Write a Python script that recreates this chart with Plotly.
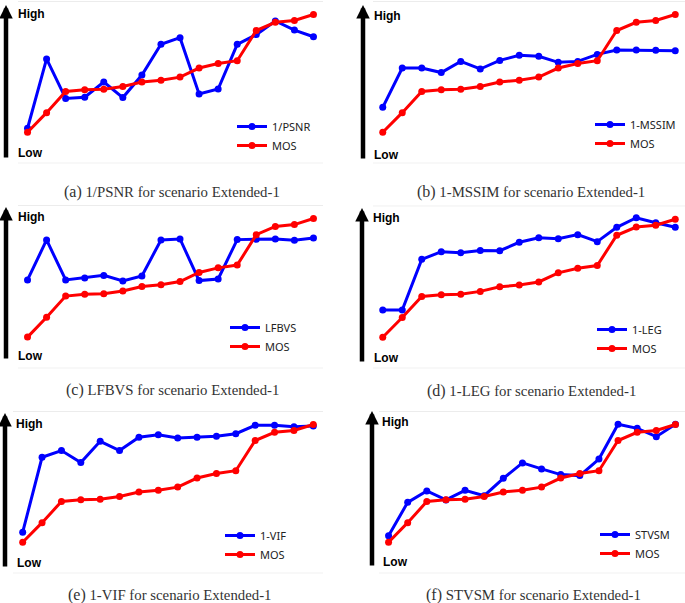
import plotly.graph_objects as go

# ---------------- data (0 = Low, 100 = High) ----------------
sample_idx = list(range(1, 17))

mos = [19.1, 31.2, 44.2, 45.3, 45.6, 47.3, 50.1, 51.2, 53.1, 58.7, 61.5, 63.2, 81.8, 86.9, 88.0, 91.7]

inv_psnr = [21.6, 64.3, 40.0, 40.7, 50.1, 40.5, 54.4, 73.3, 77.4, 42.7, 45.8, 73.3, 79.3, 87.7, 82.1, 78.0]
one_mssim = [34.5, 58.7, 58.7, 55.9, 62.8, 58.1, 63.4, 66.5, 65.9, 62.2, 62.8, 67.1, 69.8, 69.8, 69.6, 69.4]
lfbvs = [54.1, 78.6, 54.1, 55.3, 56.9, 53.5, 56.5, 78.6, 79.2, 53.7, 54.7, 78.8, 79.0, 79.2, 78.4, 79.8]
one_leg = [35.9, 35.9, 67.0, 71.7, 71.1, 72.5, 72.3, 77.5, 80.3, 79.7, 82.2, 77.9, 86.7, 92.6, 89.5, 86.7]
one_vif = [25.3, 71.5, 75.6, 68.2, 81.3, 75.6, 83.8, 85.4, 83.4, 83.8, 84.4, 86.0, 91.2, 91.2, 90.3, 90.8]
stvsm = [23.2, 43.7, 50.7, 45.2, 51.1, 47.8, 58.5, 68.0, 64.3, 60.8, 60.2, 70.4, 91.8, 89.3, 84.2, 91.8]

metric_names = ["1/PSNR", "1-MSSIM", "LFBVS", "1-LEG", "1-VIF", "STVSM"]
metric_values = [inv_psnr, one_mssim, lfbvs, one_leg, one_vif, stvsm]
panel_letters = ["(a)", "(b)", "(c)", "(d)", "(e)", "(f)"]
caption_suffix = " for scenario Extended-1"
high_label, low_label = "High", "Low"
mos_name = "MOS"

# ---------------- layout geometry (pixels) ----------------
W, H = 685, 603
# plot areas: x0, x1, ytop, ybottom
areas = [
    (18, 323, 1.0, 163.3),
    (373, 685, 1.0, 163.3),
    (18, 323, 205.0, 368.3),
    (373, 685, 205.7, 368.3),
    (13, 323, 411.0, 573.3),
    (379, 685, 411.0, 573.3),
]
arrows = [  # x, ytop, ybottom
    (6, 5, 159), (363, 5, 160), (6, 207, 360), (362, 208, 363), (5, 413, 568), (372, 411, 567)
]
high_pos = [(16, 14), (372, 16), (16, 217), (371, 218), (14, 424), (380, 422)]
low_pos = [(16, 153), (372, 155), (16, 356), (372, 358), (15, 563), (381, 562)]
legend_pos = [(272, 126), (630, 124), (265, 327), (632, 329), (260, 535), (635, 534)]
caption_pos = [(172, 192), (531, 192), (172, 390), (531, 391), (170, 595), (533, 595)]

BLUE = "#0000ff"
RED = "#ff0000"


def px(x):
    return x / W


def py(y):
    return 1 - y / H


fig = go.Figure()
annotations = []
shapes = []
layout = dict(
    width=W, height=H, margin=dict(l=0, r=0, t=0, b=0),
    paper_bgcolor="white", plot_bgcolor="white", showlegend=True,
)

for i in range(6):
    n = i + 1
    xa = "x" if n == 1 else f"x{n}"
    ya = "y" if n == 1 else f"y{n}"
    lg = "legend" if n == 1 else f"legend{n}"
    x0, x1, yt, yb = areas[i]
    layout["xaxis" if n == 1 else f"xaxis{n}"] = dict(
        domain=[px(x0), px(x1)], range=[0.5, 16.5], visible=False, anchor=ya)
    layout["yaxis" if n == 1 else f"yaxis{n}"] = dict(
        domain=[py(yb), py(yt)], range=[0, 100], visible=False, anchor=xa)

    fig.add_trace(go.Scatter(
        x=sample_idx, y=metric_values[i], name=metric_names[i], mode="lines+markers",
        line=dict(color=BLUE, width=3), marker=dict(color=BLUE, size=7),
        xaxis=xa, yaxis=ya, legend=lg))
    fig.add_trace(go.Scatter(
        x=sample_idx, y=mos, name=mos_name, mode="lines+markers",
        line=dict(color=RED, width=3), marker=dict(color=RED, size=7),
        xaxis=xa, yaxis=ya, legend=lg))

    for yv in (0, 100):
        shapes.append(dict(type="line", xref=f"{xa} domain", yref=ya, x0=0, x1=1, y0=yv, y1=yv,
                           line=dict(color="#d9d9d9", width=1), layer="below"))

    ax_x, ax_t, ax_b = arrows[i]
    annotations.append(dict(
        xref="paper", yref="paper", x=px(ax_x), y=py(ax_t), ax=0, ay=ax_b - ax_t,
        text="", showarrow=True, arrowhead=2, arrowsize=0.6, arrowwidth=4.5,
        arrowcolor="black", standoff=0))

    hx, hy = high_pos[i]
    annotations.append(dict(
        xref="paper", yref="paper", x=px(hx), y=py(hy), xanchor="left", yanchor="middle",
        text=f"<b>{high_label}</b>", showarrow=False,
        font=dict(family="Liberation Sans", size=12, color="black")))
    lx, ly = low_pos[i]
    annotations.append(dict(
        xref="paper", yref="paper", x=px(lx), y=py(ly), xanchor="left", yanchor="middle",
        text=f"<b>{low_label}</b>", showarrow=False,
        font=dict(family="Liberation Sans", size=12, color="black")))

    cx, cy = caption_pos[i]
    annotations.append(dict(
        xref="paper", yref="paper", x=px(cx), y=py(cy), xanchor="center", yanchor="middle",
        text=f"<span style='font-size:16px'>{panel_letters[i]}</span> {metric_names[i]}{caption_suffix}",
        showarrow=False,
        font=dict(family="Liberation Serif", size=14.8, color="#333333")))

    gx, gy = legend_pos[i]
    layout[lg] = dict(
        x=px(gx - 40), y=py(gy - 14), xanchor="left", yanchor="top",
        bgcolor="rgba(0,0,0,0)", borderwidth=0,
        font=dict(family="Noto Sans", size=11, color="#222222"),
        tracegroupgap=0, itemwidth=30)

layout["annotations"] = annotations
layout["shapes"] = shapes
fig.update_layout(**layout)

fig.write_html("out.html", config={"displayModeBar": False},
               post_script="document.body.style.margin='0px';")
